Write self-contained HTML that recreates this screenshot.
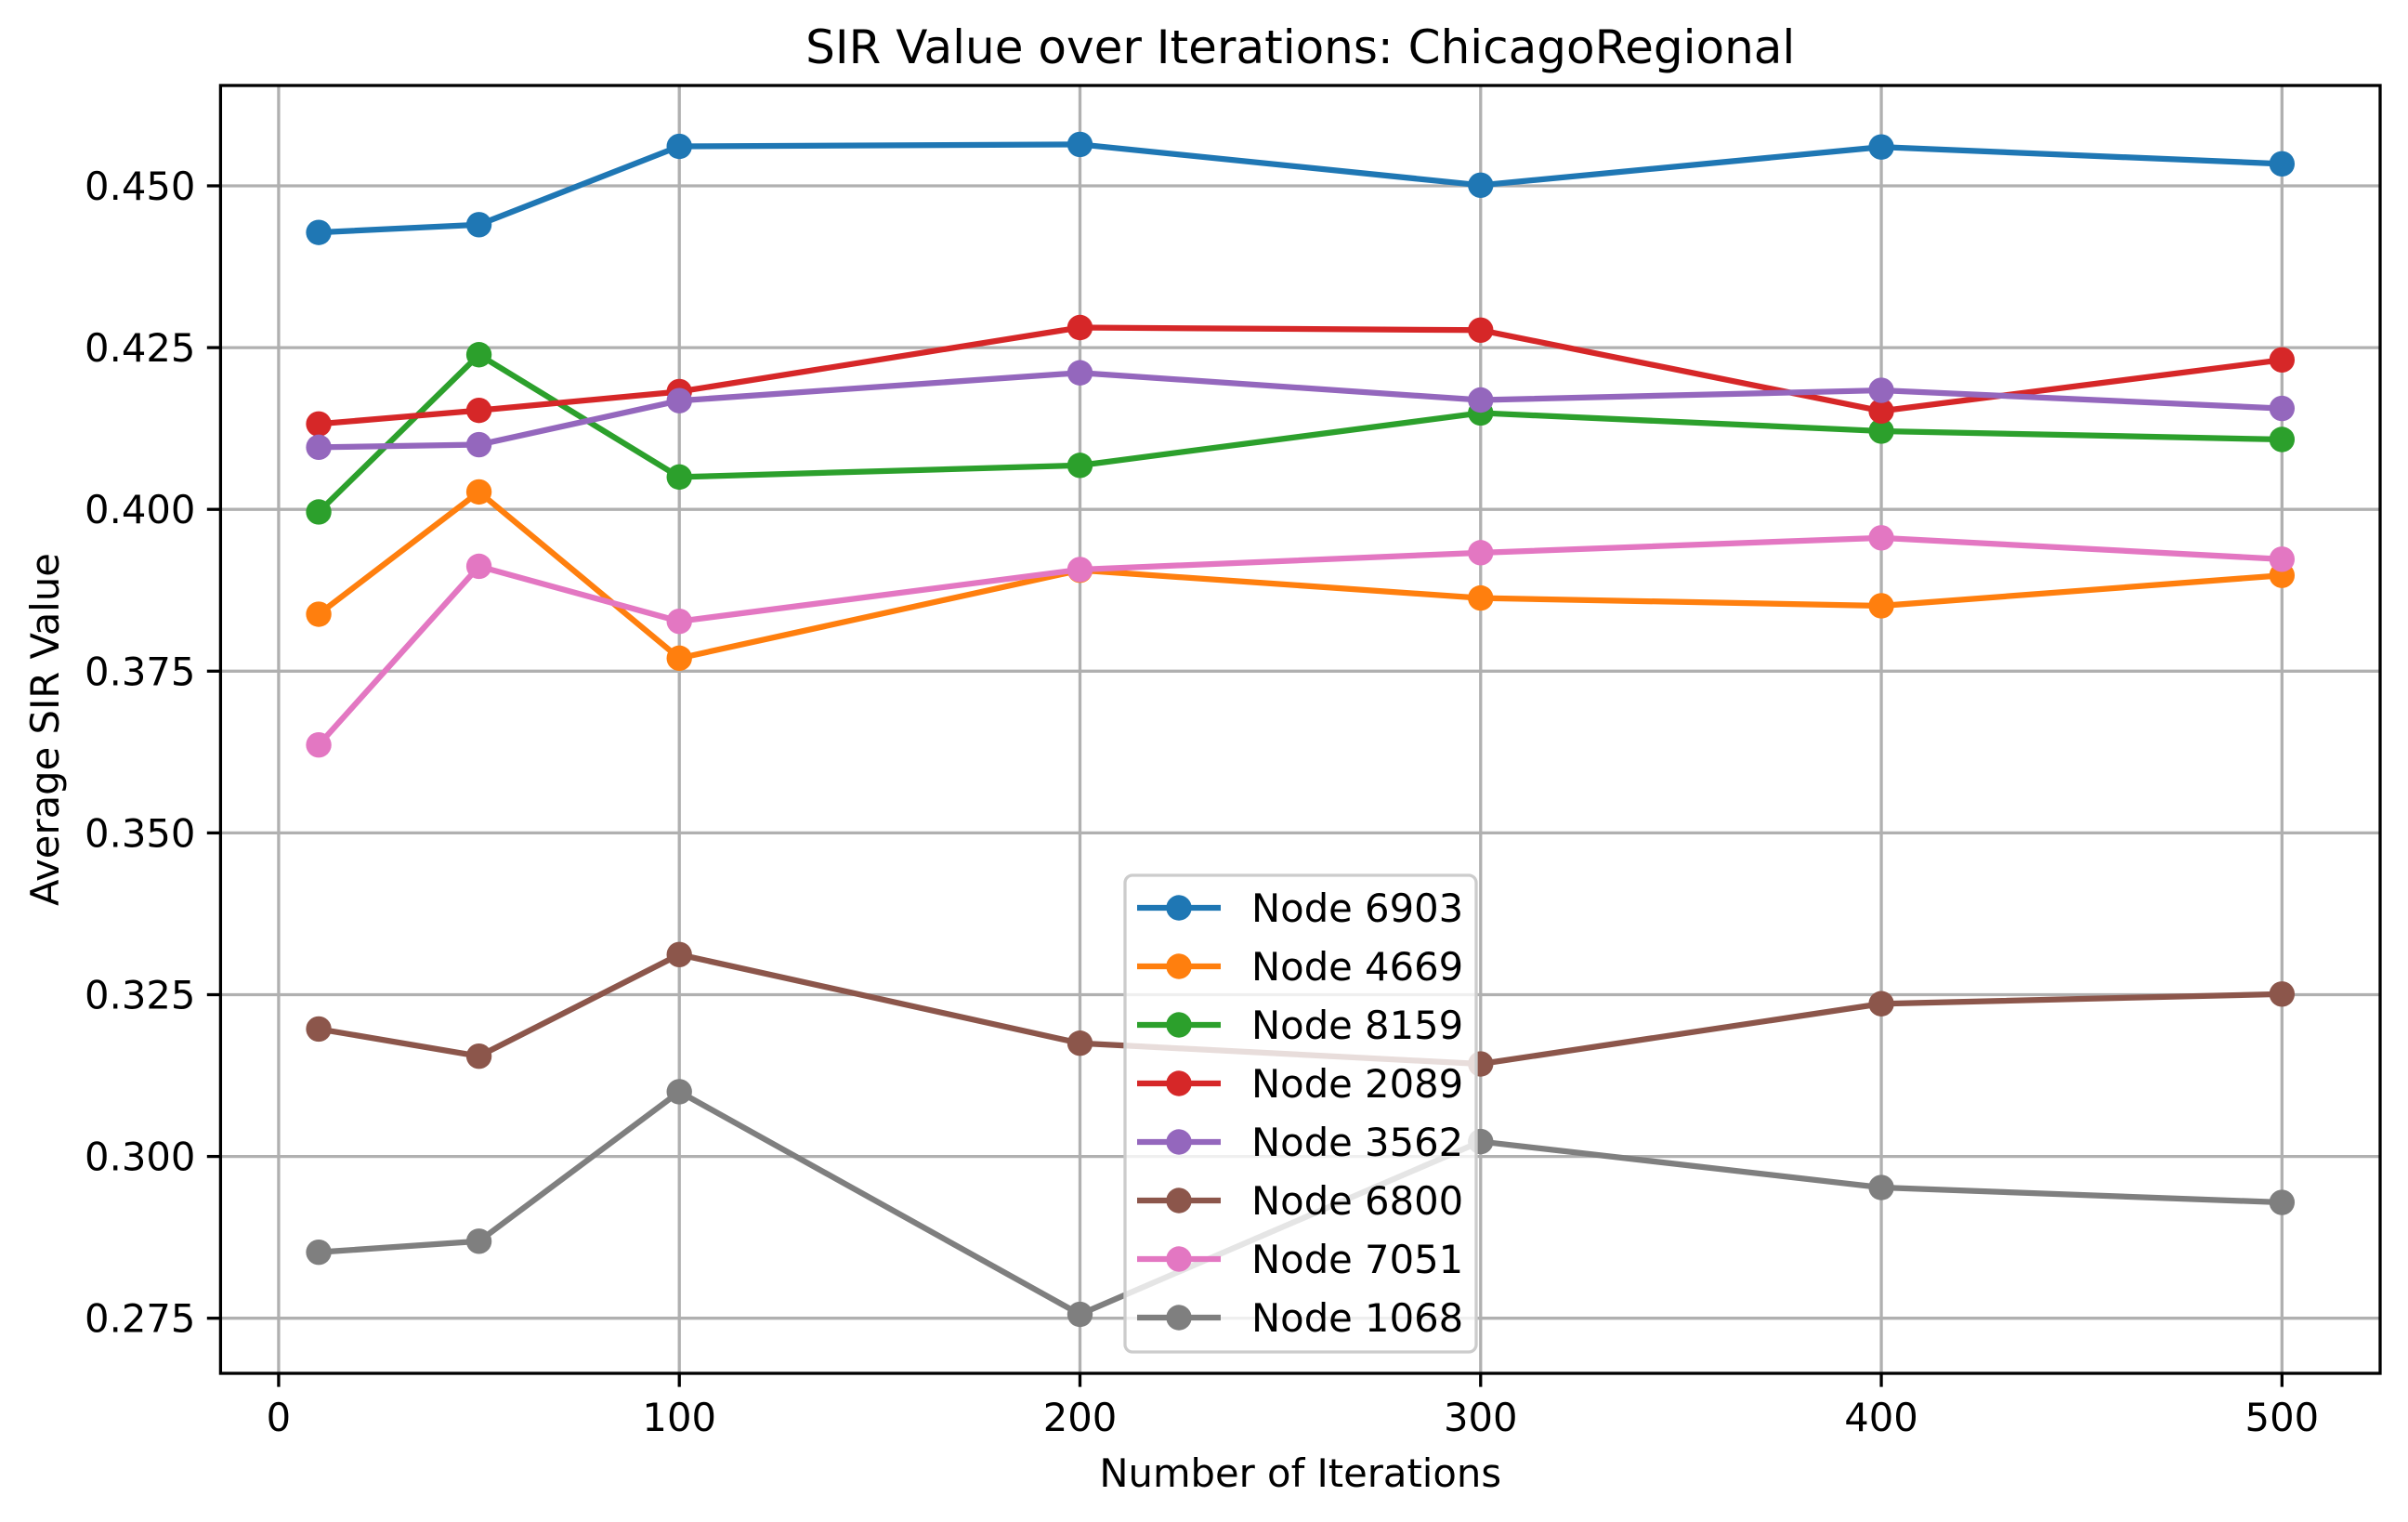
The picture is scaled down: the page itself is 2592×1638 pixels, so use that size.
<!DOCTYPE html>
<html><head><meta charset="utf-8"><style>
html,body{margin:0;padding:0;background:#fff}
svg{display:block;font-family:"DejaVu Sans","Liberation Sans",sans-serif}
</style></head><body>
<svg id="chart" width="2592" height="1638" viewBox="0 0 2592 1638" xmlns="http://www.w3.org/2000/svg"></svg>
<script>
const iterations = [10, 50, 100, 200, 300, 400, 500];
const seriesNames = ["Node 6903","Node 4669","Node 8159","Node 2089","Node 3562","Node 6800","Node 7051","Node 1068"];
const node6903 = [0.4428,0.4440,0.4561,0.4564,0.4501,0.4560,0.4534];
const node4669 = [0.3838,0.4027,0.3770,0.3906,0.3863,0.3851,0.3898];
const node8159 = [0.3996,0.4239,0.4050,0.4068,0.4149,0.4121,0.4108];
const node2089 = [0.4132,0.4153,0.4182,0.4281,0.4277,0.4152,0.4231];
const node3562 = [0.4096,0.4100,0.4168,0.4211,0.4169,0.4184,0.4156];
const node6800 = [0.3197,0.3155,0.3312,0.3175,0.3143,0.3236,0.3251];
const node7051 = [0.3636,0.3912,0.3827,0.3907,0.3933,0.3956,0.3923];
const node1068 = [0.2852,0.2869,0.3100,0.2756,0.3023,0.2952,0.2929];
const xTicks = [0,100,200,300,400,500];
const yTicks = [0.275,0.300,0.325,0.350,0.375,0.400,0.425,0.450];
const colors = ["#1f77b4","#ff7f0e","#2ca02c","#d62728","#9467bd","#8c564b","#e377c2","#7f7f7f"];
const allSeries = [node6903,node4669,node8159,node2089,node3562,node6800,node7051,node1068];

const NS="http://www.w3.org/2000/svg";
const svg=document.getElementById('chart');
const L=237.4,R=2562,T=92,B=1478;
const xMin=-14.5,xMax=524.5;
const y0v=0.450,y0p=200,pxPer=174.1/0.025;
const MR=13.7;
function xs(v){return L+(v-xMin)/(xMax-xMin)*(R-L);}
function ys(v){return y0p-(v-y0v)*pxPer;}
function mk(tag,attrs,parent){const e=document.createElementNS(NS,tag);for(const k in attrs)e.setAttribute(k,attrs[k]);(parent||svg).appendChild(e);return e;}

const grid=mk('g',{});


xTicks.forEach(t=>{const l=mk('line',{x1:xs(t),x2:xs(t),y1:T,y2:B,stroke:'#b0b0b0','stroke-width':3.3},grid);

});
yTicks.forEach(t=>{const l=mk('line',{x1:L,x2:R,y1:ys(t),y2:ys(t),stroke:'#b0b0b0','stroke-width':3.3},grid);

});

allSeries.forEach((vals,i)=>{
  const g=mk('g',{});
  
  
  const pts=vals.map((v,j)=>xs(iterations[j])+','+ys(v)).join(' ');
  const pl=mk('polyline',{points:pts,fill:'none',stroke:colors[i],'stroke-width':6.25,'stroke-linejoin':'round','stroke-linecap':'square'},g);
  
  
  vals.forEach((v,j)=>{const c=mk('circle',{cx:xs(iterations[j]),cy:ys(v),r:MR,fill:colors[i]},g);
    
    });
});

const sp=mk('rect',{x:L,y:T,width:R-L,height:B-T,fill:'none',stroke:'#000','stroke-width':3.3});



xTicks.forEach(t=>{
  const l=mk('line',{x1:xs(t),x2:xs(t),y1:B,y2:B+14.6,stroke:'#000','stroke-width':3.3});
  
  
  const tx=mk('text',{x:xs(t),y:B+62,'font-size':41.7,'text-anchor':'middle',fill:'#000'});
  tx.textContent=t;
  
  
});
yTicks.forEach(t=>{
  const l=mk('line',{x1:L-14.6,x2:L,y1:ys(t),y2:ys(t),stroke:'#000','stroke-width':3.3});
  
  
  const tx=mk('text',{x:L-27,y:ys(t)+15,'font-size':41.7,'text-anchor':'end',fill:'#000'});
  tx.textContent=t.toFixed(3);
  
  
});

const title=mk('text',{x:(L+R)/2,y:68,'font-size':50,'text-anchor':'middle',fill:'#000'});
title.textContent='SIR Value over Iterations: ChicagoRegional';


const xl=mk('text',{x:(L+R)/2,y:1600,'font-size':41.7,'text-anchor':'middle',fill:'#000'});
xl.textContent='Number of Iterations';


const yl=mk('text',{x:0,y:0,'font-size':41.7,'text-anchor':'middle',fill:'#000',transform:'translate(63,'+((T+B)/2)+') rotate(-90)'});
yl.textContent='Average SIR Value';



const lg=mk('g',{});


const lr=mk('rect',{x:1211,y:942,width:378,height:513,rx:8,fill:'#fff','fill-opacity':0.8,stroke:'#cccccc','stroke-width':3.3},lg);


seriesNames.forEach((n,i)=>{
  const cy=977+i*63;
  const e=mk('g',{},lg);
  
  
  mk('line',{x1:1224,x2:1314,y1:cy,y2:cy,stroke:colors[i],'stroke-width':6.25},e);
  mk('circle',{cx:1269,cy:cy,r:MR,fill:colors[i]},e);
  const t=mk('text',{x:1347,y:cy+15,'font-size':41.7,fill:'#000'},e);
  t.textContent=n;
});
</script>
</body></html>
